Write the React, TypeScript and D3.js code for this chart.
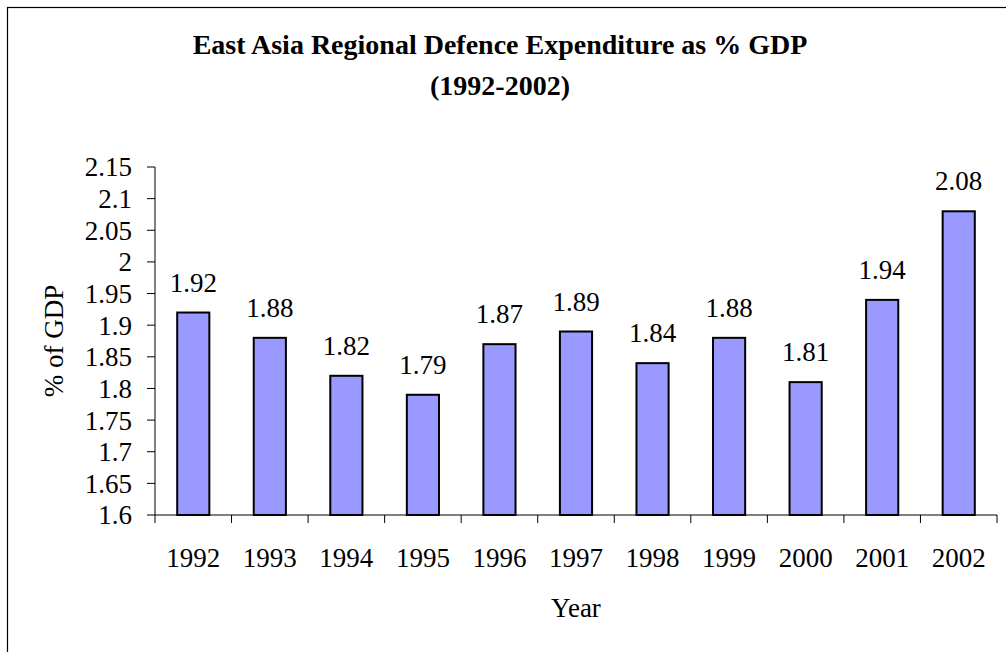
import React from 'react';
import * as d3 from 'd3';

const years = ['1992', '1993', '1994', '1995', '1996', '1997', '1998', '1999', '2000', '2001', '2002'];
const values = [1.92, 1.88, 1.82, 1.79, 1.87, 1.89, 1.84, 1.88, 1.81, 1.94, 2.08];
const yTicks = [1.6, 1.65, 1.7, 1.75, 1.8, 1.85, 1.9, 1.95, 2, 2.05, 2.1, 2.15];

const W = 1006;
const H = 652;
const font = 'Liberation Serif, serif';

const App = () => {
  // plot area
  const left = 155, right = 997, top = 167, bottom = 515;

  const x = d3.scaleBand<string>().domain(years).range([left, right]).padding(0);
  const y = d3.scaleLinear().domain([1.6, 2.15]).range([bottom, top]);
  const barW = x.bandwidth() * 0.42;
  const fs = 27;

  return (
    <svg width={W} height={H} style={{ position: 'absolute', left: 0, top: 0, fontFamily: font }}>
      <rect x={0} y={0} width={W} height={H} fill="#fff" />
      {/* outer frame, runs off the right and bottom edge */}
      <rect x={7.5} y={7.5} width={W + 10} height={H + 10} fill="none" stroke="#000" strokeWidth={1.2} />

      <text x={500} y={54} textAnchor="middle" fontSize={28} fontWeight="bold">
        East Asia Regional Defence Expenditure as % GDP
      </text>
      <text x={500} y={95} textAnchor="middle" fontSize={28} fontWeight="bold">
        (1992-2002)
      </text>

      {/* bars */}
      {values.map((v, i) => {
        const cx = x(years[i])! + x.bandwidth() / 2;
        return (
          <g key={years[i]}>
            <rect x={cx - barW / 2} y={y(v)} width={barW} height={y(1.6) - y(v)}
              fill="#9999FF" stroke="#000" strokeWidth={2} />
            <text x={cx} y={y(v) - 21} textAnchor="middle" fontSize={fs}>{v.toFixed(2)}</text>
          </g>
        );
      })}

      {/* y axis */}
      <line x1={left} x2={left} y1={top} y2={bottom} stroke="#000" strokeWidth={1} />
      {yTicks.map(t => (
        <g key={t}>
          <line x1={left - 8} x2={left} y1={y(t)} y2={y(t)} stroke="#000" />
          <text x={132} y={y(t)} dy="0.35em" textAnchor="end" fontSize={fs}>{String(t)}</text>
        </g>
      ))}

      {/* x axis */}
      <line x1={left} x2={right} y1={bottom} y2={bottom} stroke="#000" strokeWidth={1} />
      {years.map(yr => (
        <line key={'t' + yr} x1={x(yr)! + x.bandwidth()} x2={x(yr)! + x.bandwidth()} y1={bottom} y2={bottom + 8} stroke="#000" />
      ))}
      <line x1={left} x2={left} y1={bottom} y2={bottom + 8} stroke="#000" />
      {years.map(yr => (
        <text key={'l' + yr} x={x(yr)! + x.bandwidth() / 2} y={567} textAnchor="middle" fontSize={fs}>{yr}</text>
      ))}

      <text x={576} y={617} textAnchor="middle" fontSize={fs}>Year</text>
      <text transform="translate(63,341) rotate(-90)" textAnchor="middle" fontSize={fs}>% of GDP</text>
    </svg>
  );
};

export default App;
